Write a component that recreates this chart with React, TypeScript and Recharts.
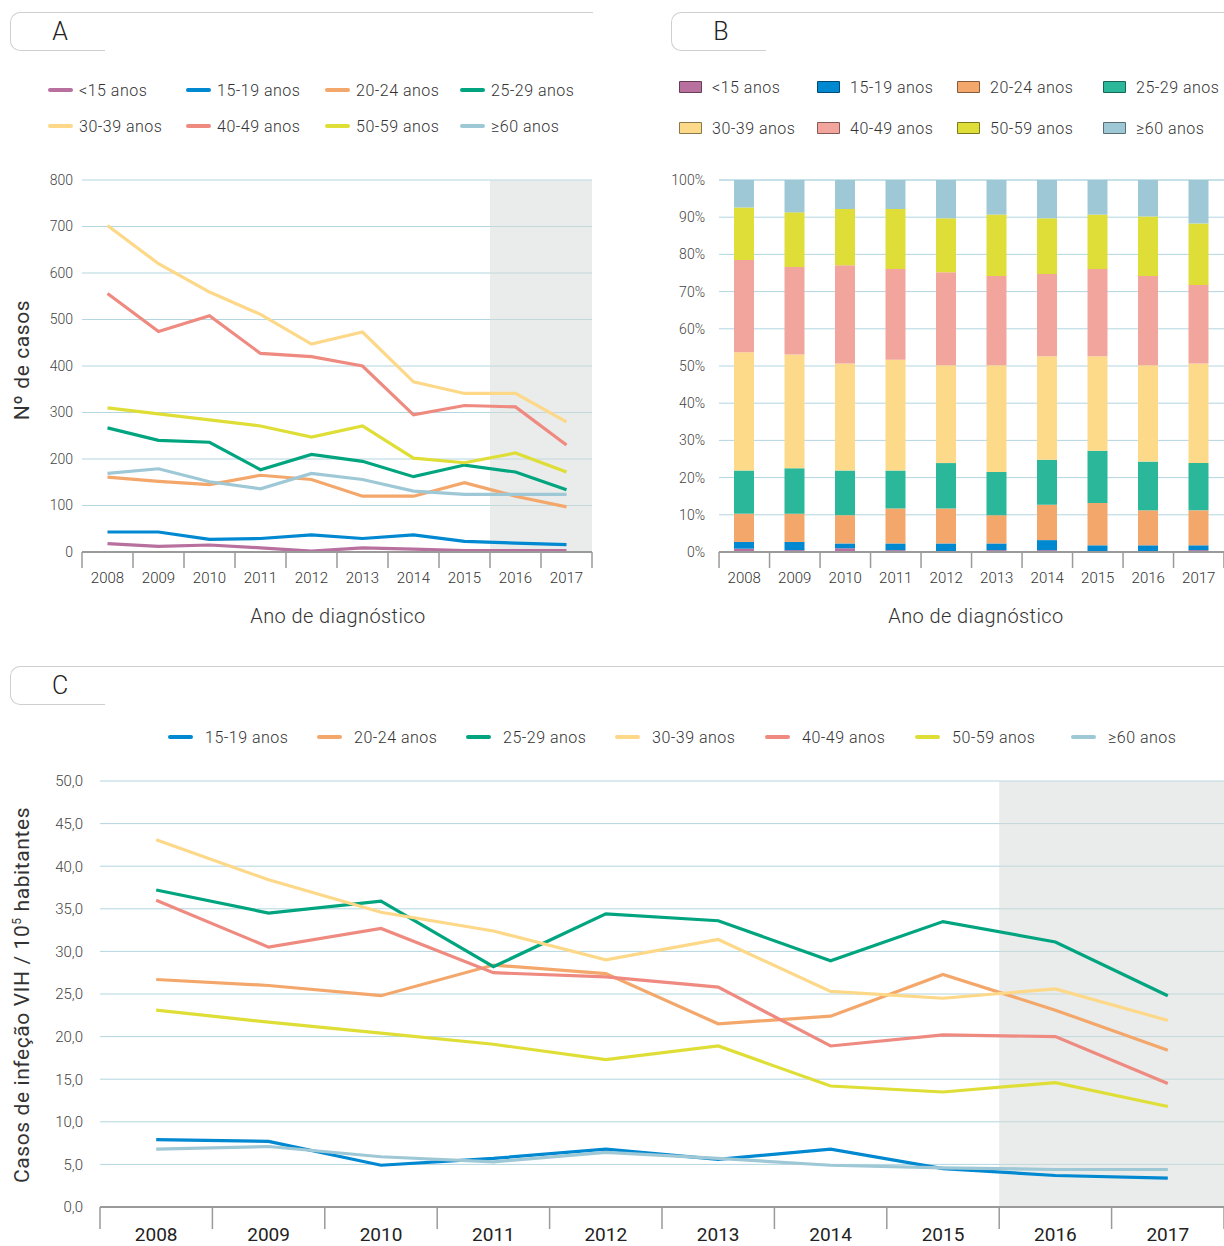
import React from 'react';
import {
  LineChart, Line, BarChart, Bar, XAxis, YAxis, CartesianGrid, ReferenceArea,
} from 'recharts';

// ---- data ----
const YEARS = [2008, 2009, 2010, 2011, 2012, 2013, 2014, 2015, 2016, 2017];
const AGE_LABELS = ['<15 anos', '15-19 anos', '20-24 anos', '25-29 anos', '30-39 anos', '40-49 anos', '50-59 anos', '≥60 anos'];
const AGE_KEYS = ['u15', 'a15', 'a20', 'a25', 'a30', 'a40', 'a50', 'a60'];

// A: nº de casos
const CASES_U15 = [18, 12, 15, 9, 2, 9, 6, 3, 3, 3];
const CASES_15_19 = [43, 43, 27, 29, 37, 29, 37, 23, 19, 16];
const CASES_20_24 = [161, 152, 145, 165, 156, 120, 120, 149, 120, 97];
const CASES_25_29 = [267, 240, 236, 177, 210, 195, 162, 187, 172, 134];
const CASES_30_39 = [702, 620, 559, 511, 447, 473, 366, 341, 341, 280];
const CASES_40_49 = [556, 474, 508, 427, 420, 400, 295, 315, 312, 230];
const CASES_50_59 = [310, 297, 284, 271, 247, 271, 202, 192, 213, 172];
const CASES_60P = [169, 179, 151, 136, 169, 156, 131, 124, 124, 124];

// B: distribuição (%)
const PCT_U15 = [0.9, 0.5, 1.0, 0.5, 0.2, 0.5, 0.5, 0.2, 0.2, 0.5];
const PCT_15_19 = [1.8, 2.2, 1.3, 1.8, 2.1, 1.8, 2.7, 1.6, 1.6, 1.3];
const PCT_20_24 = [7.6, 7.6, 7.6, 9.4, 9.4, 7.6, 9.5, 11.4, 9.4, 9.4];
const PCT_25_29 = [11.6, 12.2, 12.0, 10.2, 12.2, 11.6, 12.1, 14.0, 13.1, 12.7];
const PCT_30_39 = [31.8, 30.6, 28.8, 29.8, 26.3, 28.7, 27.8, 25.4, 25.9, 26.8];
const PCT_40_49 = [24.8, 23.5, 26.4, 24.4, 25.0, 24.0, 22.1, 23.5, 24.0, 21.1];
const PCT_50_59 = [14.1, 14.7, 15.1, 16.1, 14.5, 16.5, 15.0, 14.6, 16.0, 16.5];
const PCT_60P = [7.4, 8.7, 7.8, 7.8, 10.3, 9.3, 10.3, 9.3, 9.8, 11.7];

// C: taxa por 10^5 habitantes
const RATE_15_19 = [7.9, 7.7, 4.9, 5.7, 6.8, 5.6, 6.8, 4.5, 3.7, 3.4];
const RATE_20_24 = [26.7, 26.0, 24.8, 28.4, 27.4, 21.5, 22.4, 27.3, 23.1, 18.4];
const RATE_25_29 = [37.2, 34.5, 35.9, 28.2, 34.4, 33.6, 28.9, 33.5, 31.1, 24.8];
const RATE_30_39 = [43.1, 38.4, 34.6, 32.4, 29.0, 31.4, 25.3, 24.5, 25.6, 21.9];
const RATE_40_49 = [36.0, 30.5, 32.7, 27.5, 27.0, 25.8, 18.9, 20.2, 20.0, 14.5];
const RATE_50_59 = [23.1, 21.7, 20.4, 19.1, 17.3, 18.9, 14.2, 13.5, 14.6, 11.8];
const RATE_60P = [6.8, 7.1, 5.9, 5.3, 6.4, 5.7, 4.9, 4.6, 4.4, 4.4];

const TICKS_A = [0, 100, 200, 300, 400, 500, 600, 700, 800];
const TICKS_B = [0, 10, 20, 30, 40, 50, 60, 70, 80, 90, 100];
const TICKS_C = [0, 5, 10, 15, 20, 25, 30, 35, 40, 45, 50];

const casesA = [CASES_U15, CASES_15_19, CASES_20_24, CASES_25_29, CASES_30_39, CASES_40_49, CASES_50_59, CASES_60P];
const pctB = [PCT_U15, PCT_15_19, PCT_20_24, PCT_25_29, PCT_30_39, PCT_40_49, PCT_50_59, PCT_60P];
const ratesC = [null, RATE_15_19, RATE_20_24, RATE_25_29, RATE_30_39, RATE_40_49, RATE_50_59, RATE_60P];

const buildRows = (series: (number[] | null)[]) =>
  YEARS.map((year, i) => {
    const row: Record<string, number> = { year };
    series.forEach((s, k) => { if (s) row[AGE_KEYS[k]] = s[i]; });
    return row;
  });

const dataA = buildRows(casesA);
const dataB = buildRows(pctB);
const dataC = buildRows(ratesC);

// ---- styles ----
const LINE_COLORS = ['#b8709e', '#0088d1', '#f4a76b', '#00a57f', '#fdd888', '#ef8a80', '#dfde37', '#9ec8d6'];
const BAR_COLORS = ['#b8709e', '#0088d1', '#f4a76b', '#2bb89a', '#fdd98a', '#f2a59c', '#dfdd37', '#9ec8d6'];
const FONT = 'Roboto, "Liberation Sans", sans-serif';
const W = 300;
const GRID = '#b3d6e0';
const AXIS = '#9a9a9a';
const SHADE = '#d4dad6';

const BoundaryTick = (props: any) => {
  const { x, y, payload, index, half, len, size, dy, color, weight } = props;
  return (
    <g>
      <line x1={x - half} x2={x - half} y1={y} y2={y + len} stroke={AXIS} strokeWidth={1.5} />
      {index === YEARS.length - 1 && (
        <line x1={x + half} x2={x + half} y1={y} y2={y + len} stroke={AXIS} strokeWidth={1.5} />
      )}
      <text x={x} y={y + dy} textAnchor="middle" fontSize={size} fill={color} fontFamily={FONT} fontWeight={weight ?? W}>
        {payload.value}
      </text>
    </g>
  );
};

const Tab = ({ left, top, lineRight, label }: { left: number; top: number; lineRight: number; label: string }) => (
  <>
    <div style={{
      position: 'absolute', left, top, width: 95, height: 39,
      border: '1px solid #cfcfcf', borderRight: 'none',
      borderRadius: '10px 0 0 10px', boxSizing: 'border-box',
    }} />
    <div style={{ position: 'absolute', left: left + 10, top, width: lineRight - left - 10, height: 1, background: '#cfcfcf' }} />
    <div style={{
      position: 'absolute', left: left + 30, top: top + 5, width: 40, textAlign: 'center',
      fontFamily: FONT, fontSize: 25, color: '#222', fontWeight: W,
    }}>{label}</div>
  </>
);

const LegendItem = ({ x, y, color, text, kind, gap }: any) => (
  <div style={{ position: 'absolute', left: x, top: y - 10, height: 20, display: 'flex', alignItems: 'center', whiteSpace: 'nowrap' }}>
    {kind === 'box' ? (
      <div style={{ width: 23, height: 12, background: color, border: '1px solid rgba(0,0,0,0.45)', boxSizing: 'border-box', borderRadius: 1 }} />
    ) : (
      <div style={{ width: 25, height: 4, background: color, borderRadius: 2 }} />
    )}
    <span style={{ marginLeft: gap, fontFamily: FONT, fontSize: 16, color: '#333', letterSpacing: 0.5, fontWeight: W }}>{text}</span>
  </div>
);

const VText = ({ cx, cy, size, children }: any) => (
  <div style={{
    position: 'absolute', left: cx, top: cy, transform: 'translate(-50%, -50%) rotate(-90deg)',
    whiteSpace: 'nowrap', fontFamily: FONT, fontSize: size, color: '#333', fontWeight: 400, letterSpacing: 0.6,
  }}>{children}</div>
);

const LEG_A_X = [48, 186, 325, 460];
const LEG_B_X = [679, 817, 957, 1103];
const LEG_C_X = [168, 317, 466, 615, 765, 915, 1071];

const xTitle = (cx: number): React.CSSProperties => ({
  position: 'absolute', left: cx, top: 616, transform: 'translate(-50%, -50%)',
  fontFamily: FONT, fontSize: 20, color: '#333', whiteSpace: 'nowrap', fontWeight: W, letterSpacing: 0.4,
});

export default function App() {
  return (
    <div style={{ position: 'absolute', left: 0, top: 0, width: 1224, height: 1246, background: '#fff', overflow: 'hidden' }}>
      <Tab left={10} top={12} lineRight={593} label="A" />
      <Tab left={671} top={12} lineRight={1224} label="B" />
      <Tab left={10} top={666} lineRight={1224} label="C" />

      {AGE_LABELS.map((t, k) => (
        <LegendItem key={'a' + k} x={LEG_A_X[k % 4]} y={k < 4 ? 90 : 126} color={LINE_COLORS[k]} text={t} gap={6} />
      ))}
      {AGE_LABELS.map((t, k) => (
        <LegendItem key={'b' + k} x={LEG_B_X[k % 4]} y={k < 4 ? 87 : 128} color={BAR_COLORS[k]} text={t} kind="box" gap={10} />
      ))}
      {AGE_LABELS.slice(1).map((t, k) => (
        <LegendItem key={'c' + k} x={LEG_C_X[k]} y={737} color={LINE_COLORS[k + 1]} text={t} gap={12} />
      ))}

      {/* A */}
      <div style={{ position: 'absolute', left: 0, top: 0 }}>
        <LineChart width={612} height={640} data={dataA} margin={{ top: 180, right: 20, bottom: 0, left: 0 }}>
          <CartesianGrid vertical={false} stroke={GRID} strokeWidth={1} />
          <ReferenceArea x1={2015.5} x2={2017.5} y1={0} y2={800} fill={SHADE} fillOpacity={0.5} stroke="none" />
          <XAxis type="number" dataKey="year" domain={[2007.5, 2017.5]} ticks={YEARS} interval={0}
            height={88} tickSize={0} tickMargin={0} tickLine={false}
            axisLine={{ stroke: AXIS, strokeWidth: 2 }}
            tick={(p: any) => <BoundaryTick {...p} half={25.5} len={16} size={15} dy={31} color="#333" />} />
          <YAxis domain={[0, 800]} ticks={TICKS_A} width={82} axisLine={false} tickLine={false} tickMargin={3}
            tick={{ fontSize: 14, fill: '#444', fontFamily: FONT, fontWeight: W }} />
          {AGE_KEYS.map((k, i) => (
            <Line key={k} dataKey={k} stroke={LINE_COLORS[i]} strokeWidth={3.2} dot={false} isAnimationActive={false} />
          ))}
        </LineChart>
      </div>
      <VText cx={22} cy={360} size={21}>Nº de casos</VText>
      <div style={xTitle(338)}>Ano de diagnóstico</div>

      {/* B */}
      <div style={{ position: 'absolute', left: 612, top: 0 }}>
        <BarChart width={612} height={640} data={dataB} margin={{ top: 180, right: 0, bottom: 0, left: 0 }}>
          <CartesianGrid vertical={false} stroke={GRID} strokeWidth={1} />
          <XAxis dataKey="year" interval={0} height={88} tickSize={0} tickMargin={0} tickLine={false}
            axisLine={{ stroke: AXIS, strokeWidth: 2 }}
            tick={(p: any) => <BoundaryTick {...p} half={25.2} len={16} size={15} dy={31} color="#333" />} />
          <YAxis domain={[0, 100]} ticks={TICKS_B} width={107} axisLine={false} tickLine={false} tickMargin={8}
            tickFormatter={(v: number) => v + '%'} tick={{ fontSize: 14, fill: '#444', fontFamily: FONT, fontWeight: W }} />
          {AGE_KEYS.map((k, i) => (
            <Bar key={k} dataKey={k} stackId="s" fill={BAR_COLORS[i]} barSize={20} isAnimationActive={false} />
          ))}
        </BarChart>
      </div>
      <div style={xTitle(976)}>Ano de diagnóstico</div>

      {/* C */}
      <div style={{ position: 'absolute', left: 0, top: 640 }}>
        <LineChart width={1224} height={606} data={dataC} margin={{ top: 141, right: 0, bottom: 0, left: 0 }}>
          <CartesianGrid vertical={false} stroke={GRID} strokeWidth={1} />
          <ReferenceArea x1={2015.5} x2={2017.5} y1={0} y2={50} fill={SHADE} fillOpacity={0.5} stroke="none" />
          <XAxis type="number" dataKey="year" domain={[2007.5, 2017.5]} ticks={YEARS} interval={0}
            height={39} tickSize={0} tickMargin={0} tickLine={false}
            axisLine={{ stroke: AXIS, strokeWidth: 2 }}
            tick={(p: any) => <BoundaryTick {...p} half={56.2} len={22} size={19} dy={34} color="#222" weight={400} />} />
          <YAxis domain={[0, 50]} ticks={TICKS_C} width={100} axisLine={false} tickLine={false} tickMargin={11}
            tickFormatter={(v: number) => v.toFixed(1).replace('.', ',')}
            tick={{ fontSize: 15, fill: '#444', fontFamily: FONT, fontWeight: W }} />
          {AGE_KEYS.slice(1).map((k, i) => (
            <Line key={k} dataKey={k} stroke={LINE_COLORS[i + 1]} strokeWidth={3.2} dot={false} isAnimationActive={false} />
          ))}
        </LineChart>
      </div>
      <VText cx={22} cy={995} size={21}>Casos de infeção VIH / 10<sup style={{ fontSize: 12 }}>5</sup> habitantes</VText>
    </div>
  );
}
